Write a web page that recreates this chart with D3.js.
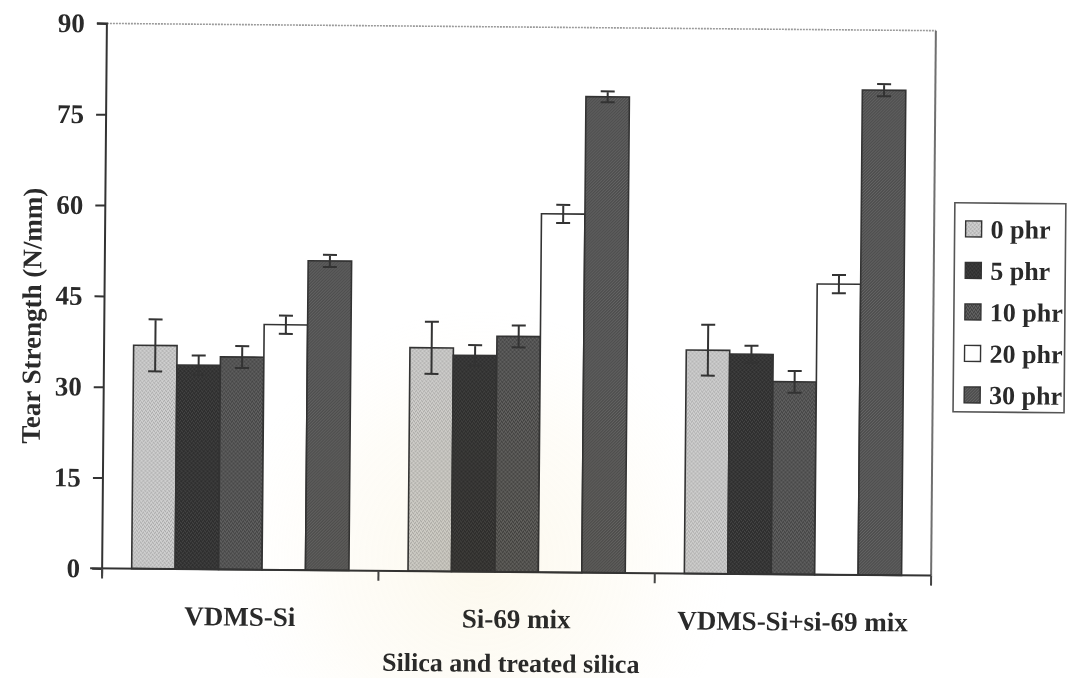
<!DOCTYPE html>
<html>
<head>
<meta charset="utf-8">
<script src="https://cdn.jsdelivr.net/npm/d3@7"></script>
<style>
  html, body { margin: 0; padding: 0; background: #ffffff; }
  svg { display: block; }
  text { font-family: "Liberation Serif", "Times New Roman", serif; font-weight: bold; fill: #2a2a2a; }
</style>
</head>
<body>
<svg id="chart" width="1068" height="678"></svg>
<script>
// Tear strength by silica treatment and loading
const categories = ["VDMS-Si", "Si-69 mix", "VDMS-Si+si-69 mix"];
const seriesNames = ["0 phr", "5 phr", "10 phr", "20 phr", "30 phr"];

const phr0  = [36.9, 36.9, 36.9];
const phr5  = [33.7, 35.7, 36.3];
const phr10 = [35.1, 38.9, 31.8];
const phr20 = [40.5, 59.2, 48.0];
const phr30 = [51.1, 78.6, 80.1];

const err0  = [4.3, 4.3, 4.2];
const err5  = [1.6, 1.7, 1.4];
const err10 = [1.8, 1.8, 1.8];
const err20 = [1.5, 1.5, 1.5];
const err30 = [1.0, 0.9, 1.0];

const yTicks = [0, 15, 30, 45, 60, 75, 90];

const seriesValues = [phr0, phr5, phr10, phr20, phr30];
const seriesErrors = [err0, err5, err10, err20, err30];

const rows = [];
categories.forEach((c, ci) => {
  seriesNames.forEach((s, si) => {
    rows.push({ cat: c, series: s, idx: si, value: seriesValues[si][ci], err: seriesErrors[si][ci] });
  });
});

const svg = d3.select("#chart");
const defs = svg.append("defs");

// grainy fills for the shaded bars
function grain(id, base, dots, dots2) {
  const p = defs.append("pattern").attr("id", id)
    .attr("width", 4).attr("height", 4).attr("patternUnits", "userSpaceOnUse");
  p.append("rect").attr("width", 4).attr("height", 4).attr("fill", base);
  [[0,0],[2,1],[1,3],[3,2]].forEach(([x,y]) =>
    p.append("rect").attr("x", x).attr("y", y).attr("width", 1).attr("height", 1).attr("fill", dots));
  if (dots2) [[1,1],[3,0],[0,2],[2,3]].forEach(([x,y]) =>
    p.append("rect").attr("x", x).attr("y", y).attr("width", 1).attr("height", 1).attr("fill", dots2));
}
grain("g0", "#c6c6c6", "#a8a8a8", "#d6d6d6");
grain("g5", "#333333", "#474747", "#2a2a2a");
grain("g10", "#545454", "#3e3e3e", "#686868");
(function hatch() {
  const p = defs.append("pattern").attr("id", "g30")
    .attr("width", 3).attr("height", 3).attr("patternUnits", "userSpaceOnUse");
  p.append("rect").attr("width", 3).attr("height", 3).attr("fill", "#4e4e4e");
  p.append("path").attr("d", "M0,3 L3,0").attr("stroke", "#6a6a6a").attr("stroke-width", 0.9);
})();

const fills = ["url(#g0)", "url(#g5)", "url(#g10)", "#ffffff", "url(#g30)"];
const swatchFills = fills;

const rg = defs.append("radialGradient").attr("id", "wm")
  .attr("cx", 0.5).attr("cy", 0.5).attr("r", 0.5);
rg.append("stop").attr("offset", "0%").attr("stop-color", "#f3e2ad").attr("stop-opacity", 0.22);
rg.append("stop").attr("offset", "60%").attr("stop-color", "#f6e9c2").attr("stop-opacity", 0.12);
rg.append("stop").attr("offset", "100%").attr("stop-color", "#fbf3dc").attr("stop-opacity", 0);

const plot = { left: 104.5, right: 933.5, top: 27, bottom: 572 };

// slight tilt of the whole figure
const root = svg.append("g").attr("transform", "rotate(0.5, 517, 300)");

const x0 = d3.scaleBand().domain(categories).range([plot.left, plot.right]).paddingInner(0).paddingOuter(0);
const x1 = d3.scaleBand().domain(seriesNames).range([0, x0.bandwidth()]).paddingInner(0).paddingOuter(0.68);
const y = d3.scaleLinear().domain([0, 90]).range([plot.bottom, plot.top]);

// frame: dotted top edge and right edge
root.append("line").attr("x1", plot.left).attr("x2", plot.right)
  .attr("y1", plot.top).attr("y2", plot.top)
  .attr("stroke", "#9a9a9a").attr("stroke-width", 1.6).attr("stroke-dasharray", "2,1");
root.append("line").attr("x1", plot.right).attr("x2", plot.right)
  .attr("y1", plot.top).attr("y2", plot.bottom)
  .attr("stroke", "#6f6f6f").attr("stroke-width", 2);

// bars
const bars = root.append("g");
bars.selectAll("rect").data(rows).join("rect")
  .attr("x", d => x0(d.cat) + x1(d.series))
  .attr("y", d => y(d.value))
  .attr("width", x1.bandwidth())
  .attr("height", d => y(0) - y(d.value))
  .attr("fill", d => fills[d.idx])
  .attr("stroke", "#333")
  .attr("stroke-width", 1.6);

// error bars
const eb = root.append("g").attr("stroke", "#333").attr("stroke-width", 2).attr("fill", "none");
const cap = 7;
eb.selectAll("path").data(rows).join("path")
  .attr("d", d => {
    const cx = x0(d.cat) + x1(d.series) + x1.bandwidth() / 2;
    const yt = y(d.value + d.err), yb = y(d.value - d.err);
    return `M${cx},${yt}V${yb}M${cx - cap},${yt}H${cx + cap}M${cx - cap},${yb}H${cx + cap}`;
  });

// y axis
const yAxis = root.append("g").attr("transform", `translate(${plot.left},0)`)
  .call(d3.axisLeft(y).tickValues(yTicks).tickSize(10).tickPadding(12).tickFormat(d3.format("d")));
yAxis.select(".domain").attr("stroke", "#333").attr("stroke-width", 2).attr("d", `M-10,${plot.top}H0V${plot.bottom + 8}`);
yAxis.selectAll(".tick line").attr("stroke", "#333").attr("stroke-width", 2);
yAxis.selectAll(".tick text")
  .style("font-family", '"Liberation Serif", "Times New Roman", serif')
  .style("font-weight", "bold").style("font-size", "27px").attr("fill", "#2a2a2a");

// x axis with boundary ticks between groups
const xAxis = root.append("g").attr("transform", `translate(0,${plot.bottom})`);
xAxis.append("line").attr("x1", plot.left - 12).attr("x2", plot.right)
  .attr("stroke", "#333").attr("stroke-width", 2);
const bounds = categories.map(c => x0(c)).concat([plot.right]);
xAxis.selectAll("line.bt").data(bounds).join("line").attr("class", "bt")
  .attr("x1", d => d).attr("x2", d => d).attr("y1", 0).attr("y2", 10)
  .attr("stroke", "#444").attr("stroke-width", 2);
xAxis.selectAll("text").data(categories).join("text")
  .attr("x", d => x0(d) + x0.bandwidth() / 2)
  .attr("y", 56)
  .attr("text-anchor", "middle")
  .style("font-size", "27px")
  .text(d => d);

// axis titles
root.append("text")
  .attr("x", (plot.left + plot.right) / 2 - 5).attr("y", 672)
  .attr("text-anchor", "middle").style("font-size", "26px")
  .text("Silica and treated silica");
root.append("text")
  .attr("transform", "translate(41,320) rotate(-90)")
  .attr("text-anchor", "middle").style("font-size", "27px")
  .text("Tear Strength (N/mm)");

// legend
const lg = root.append("g");
lg.append("rect").attr("x", 954).attr("y", 199).attr("width", 111).attr("height", 209)
  .attr("fill", "#fff").attr("stroke", "#555").attr("stroke-width", 1.6);
const item = lg.selectAll("g.item").data(seriesNames).join("g").attr("class", "item")
  .attr("transform", (d, i) => `translate(965,${225 + i * 41.5})`);
item.append("rect").attr("x", 0).attr("y", -8).attr("width", 16).attr("height", 16)
  .attr("fill", (d, i) => swatchFills[i]).attr("stroke", "#333").attr("stroke-width", 1.4);
item.append("text").attr("x", 25).attr("y", 9).style("font-size", "26px").text(d => d);

// faint emblem tint in the lower middle of the page
svg.append("ellipse").attr("cx", 480).attr("cy", 560).attr("rx", 250).attr("ry", 250)
  .attr("fill", "url(#wm)").style("mix-blend-mode", "multiply").attr("pointer-events", "none");
</script>
</body>
</html>
